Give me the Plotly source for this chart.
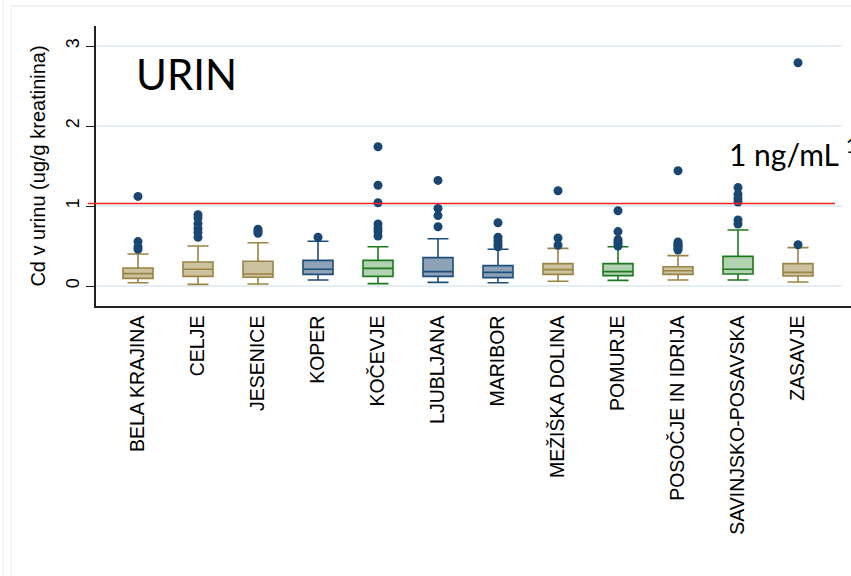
import plotly.graph_objects as go

# Regions and box statistics of urinary cadmium (ug/g creatinine)
regions = ["BELA KRAJINA", "CELJE", "JESENICE", "KOPER", "KOČEVJE", "LJUBLJANA",
           "MARIBOR", "MEŽIŠKA DOLINA", "POMURJE", "POSOČJE IN IDRIJA",
           "SAVINJSKO-POSAVSKA", "ZASAVJE"]
lower_whisker = [0.04, 0.02, 0.025, 0.075, 0.03, 0.045, 0.04, 0.06, 0.07, 0.075, 0.075, 0.05]
q1 = [0.095, 0.12, 0.11, 0.145, 0.12, 0.12, 0.105, 0.145, 0.13, 0.145, 0.15, 0.125]
median = [0.155, 0.21, 0.15, 0.21, 0.22, 0.18, 0.17, 0.205, 0.18, 0.19, 0.21, 0.17]
q3 = [0.225, 0.30, 0.31, 0.32, 0.32, 0.355, 0.255, 0.28, 0.28, 0.24, 0.37, 0.28]
upper_whisker = [0.40, 0.50, 0.54, 0.56, 0.49, 0.59, 0.46, 0.47, 0.49, 0.38, 0.70, 0.48]
outliers = [
    [1.12, 0.555, 0.49, 0.46],
    [0.89, 0.85, 0.78, 0.72, 0.67, 0.61],
    [0.71, 0.685, 0.66],
    [0.61],
    [1.74, 1.26, 1.04, 0.775, 0.72, 0.68, 0.625],
    [1.32, 0.97, 0.88, 0.74],
    [0.79, 0.61, 0.57, 0.525, 0.49],
    [1.19, 0.60, 0.51],
    [0.94, 0.68, 0.58, 0.555, 0.525, 0.50],
    [1.44, 0.55, 0.53, 0.51, 0.49, 0.47, 0.45],
    [1.23, 1.145, 1.095, 1.05, 0.825, 0.775],
    [2.79, 0.515],
]
group = ["tan", "tan", "tan", "blue", "green", "blue",
         "blue", "tan", "green", "tan", "green", "tan"]
limit_value = 1.03
y_ticks = [0, 1, 2, 3]

palette = {
    "tan": ("rgba(205,194,160,1)", "#9a8443"),
    "blue": ("rgba(142,162,184,1)", "#1f4e79"),
    "green": ("rgba(178,211,178,1)", "#1c7a1c"),
}
dot_color = "#1a4672"

fig = go.Figure()

for i, name in enumerate(regions):
    fill, line = palette[group[i]]
    fig.add_trace(go.Box(
        x=[name], q1=[q1[i]], median=[median[i]], q3=[q3[i]],
        lowerfence=[lower_whisker[i]], upperfence=[upper_whisker[i]],
        boxpoints=False, width=0.5, whiskerwidth=0.7,
        fillcolor=fill, line=dict(color=line, width=1.6),
        showlegend=False, hoverinfo="skip",
    ))
    fig.add_trace(go.Scatter(
        x=[name] * len(outliers[i]), y=outliers[i], mode="markers",
        marker=dict(color=dot_color, size=9, line=dict(width=0)),
        showlegend=False, hoverinfo="skip",
    ))

L, T, B = 96, 26, 306
W = 851 - L
H = B - T


def px_x(p):
    return (p - L) / W


def px_y(p):
    return (B - p) / H


shapes = []
# light horizontal gridlines
for v in y_ticks:
    shapes.append(dict(type="line", xref="paper", yref="y", x0=0, x1=px_x(842),
                       y0=v, y1=v, line=dict(color="#e6edf3", width=2), layer="below"))
# reference limit line
shapes.append(dict(type="line", xref="paper", yref="y", x0=px_x(88), x1=px_x(835),
                   y0=limit_value, y1=limit_value, line=dict(color="#ff2020", width=1.5)))
# thin page borders
shapes.append(dict(type="line", xref="paper", yref="paper", x0=px_x(3), x1=px_x(3),
                   y0=px_y(0), y1=px_y(576), line=dict(color="#e4ecf1", width=1)))
shapes.append(dict(type="line", xref="paper", yref="paper", x0=px_x(11), x1=px_x(11),
                   y0=px_y(8), y1=px_y(576), line=dict(color="#e4ecf1", width=1)))
shapes.append(dict(type="line", xref="paper", yref="paper", x0=px_x(11), x1=px_x(851),
                   y0=px_y(6), y1=px_y(6), line=dict(color="#e4ecf1", width=1.5)))

annotations = [
    dict(text="URIN", xref="paper", yref="paper", x=px_x(134), y=px_y(101),
         xanchor="left", yanchor="bottom", showarrow=False,
         font=dict(family="Lato", size=42, color="#000000")),
    dict(text="1 ng/mL <sup>1</sup>", xref="paper", yref="paper", x=px_x(727), y=px_y(174),
         xanchor="left", yanchor="bottom", showarrow=False,
         font=dict(family="Lato", size=30, color="#000000")),
]

fig.update_layout(
    width=851, height=576,
    margin=dict(l=L, r=0, t=T, b=576 - B, pad=0),
    paper_bgcolor="white", plot_bgcolor="white",
    shapes=shapes, annotations=annotations,
    xaxis=dict(
        type="category", categoryorder="array", categoryarray=regions,
        range=[-0.7, -0.7 + W / 60],
        showgrid=False, zeroline=False, ticks="",
        showline=True, linecolor="#222222", linewidth=1.5,
        tickangle=-90, ticklabelstandoff=0,
        tickfont=dict(family="Liberation Sans, Arial", size=19.5, color="#000000"),
    ),
    yaxis=dict(
        range=[-0.25, 3.25], tickvals=y_ticks, ticktext=[str(v) for v in y_ticks],
        showgrid=False, zeroline=False,
        ticks="outside", ticklen=8, tickcolor="#222222", tickwidth=1.2,
        showline=True, linecolor="#222222", linewidth=1.5,
        tickangle=-90,
        tickfont=dict(family="Liberation Sans, Arial", size=18, color="#000000"),
        title=dict(text="Cd v urinu (ug/g kreatinina)", standoff=12,
                   font=dict(family="Liberation Sans, Arial", size=20, color="#000000")),
    ),
)

fig.write_html("out.html")
